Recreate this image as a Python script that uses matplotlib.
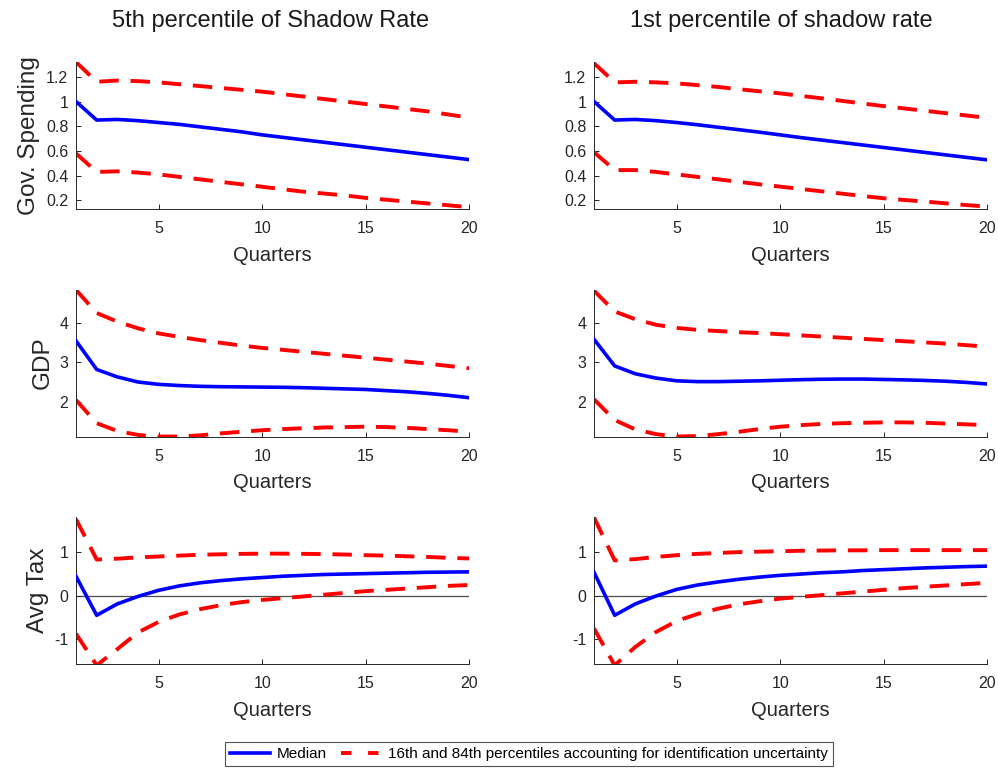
import matplotlib
matplotlib.use("Agg")
import matplotlib.pyplot as plt
from matplotlib.lines import Line2D
import numpy as np

plt.rcParams['font.family'] = ['Liberation Sans', 'DejaVu Sans']
plt.rcParams['lines.scale_dashes'] = False

quarters = list(range(1, 21))
col_titles = ["5th percentile of Shadow Rate", "1st percentile of shadow rate"]
row_labels = ["Gov. Spending", "GDP", "Avg Tax"]

# Gov. Spending
gs_med_5 = [1.0, 0.85, 0.855, 0.845, 0.83, 0.815, 0.795, 0.775, 0.755, 0.73, 0.71, 0.69, 0.67, 0.65, 0.63, 0.61, 0.59, 0.57, 0.55, 0.53]
gs_up_5 = [1.32, 1.16, 1.17, 1.165, 1.155, 1.14, 1.125, 1.11, 1.095, 1.08, 1.06, 1.04, 1.02, 1.0, 0.98, 0.96, 0.94, 0.92, 0.895, 0.87]
gs_lo_5 = [0.58, 0.43, 0.435, 0.425, 0.41, 0.39, 0.37, 0.35, 0.33, 0.31, 0.29, 0.27, 0.255, 0.24, 0.22, 0.205, 0.19, 0.175, 0.16, 0.145]
gs_med_1 = [1.0, 0.85, 0.855, 0.845, 0.83, 0.812, 0.792, 0.772, 0.752, 0.73, 0.708, 0.688, 0.668, 0.648, 0.628, 0.608, 0.588, 0.568, 0.548, 0.528]
gs_up_1 = [1.31, 1.155, 1.16, 1.155, 1.147, 1.133, 1.118, 1.1, 1.083, 1.066, 1.046, 1.026, 1.005, 0.984, 0.963, 0.944, 0.925, 0.906, 0.887, 0.868]
gs_lo_1 = [0.59, 0.445, 0.445, 0.43, 0.41, 0.39, 0.37, 0.35, 0.33, 0.311, 0.292, 0.273, 0.254, 0.235, 0.217, 0.203, 0.19, 0.176, 0.162, 0.149]

# GDP
gdp_med_5 = [3.55, 2.82, 2.63, 2.5, 2.44, 2.41, 2.39, 2.38, 2.375, 2.37, 2.365, 2.355, 2.34, 2.325, 2.31, 2.28, 2.25, 2.21, 2.16, 2.1]
gdp_up_5 = [4.85, 4.26, 4.04, 3.87, 3.74, 3.65, 3.57, 3.5, 3.43, 3.37, 3.32, 3.27, 3.22, 3.17, 3.12, 3.07, 3.02, 2.97, 2.91, 2.85]
gdp_lo_5 = [2.04, 1.45, 1.25, 1.15, 1.11, 1.11, 1.14, 1.19, 1.23, 1.27, 1.3, 1.32, 1.34, 1.35, 1.36, 1.35, 1.33, 1.3, 1.27, 1.23]
gdp_med_1 = [3.59, 2.91, 2.71, 2.6, 2.53, 2.51, 2.51, 2.52, 2.53, 2.545, 2.56, 2.57, 2.575, 2.575, 2.565, 2.555, 2.54, 2.52, 2.49, 2.45]
gdp_up_1 = [4.83, 4.3, 4.1, 3.96, 3.88, 3.83, 3.8, 3.77, 3.75, 3.72, 3.69, 3.66, 3.63, 3.6, 3.57, 3.54, 3.51, 3.48, 3.44, 3.40]
gdp_lo_1 = [2.06, 1.53, 1.29, 1.17, 1.11, 1.12, 1.17, 1.23, 1.3, 1.36, 1.4, 1.43, 1.45, 1.46, 1.47, 1.47, 1.46, 1.44, 1.42, 1.40]

# Avg Tax
tax_med_5 = [0.44, -0.45, -0.19, -0.02, 0.12, 0.22, 0.29, 0.34, 0.38, 0.41, 0.44, 0.46, 0.48, 0.49, 0.5, 0.51, 0.52, 0.53, 0.535, 0.54]
tax_up_5 = [1.74, 0.82, 0.84, 0.87, 0.89, 0.91, 0.93, 0.94, 0.95, 0.955, 0.955, 0.95, 0.945, 0.935, 0.92, 0.91, 0.895, 0.88, 0.86, 0.845]
tax_lo_5 = [-0.87, -1.59, -1.22, -0.84, -0.6, -0.43, -0.31, -0.22, -0.15, -0.1, -0.06, -0.02, 0.02, 0.06, 0.1, 0.13, 0.16, 0.19, 0.22, 0.24]
tax_med_1 = [0.53, -0.45, -0.19, -0.01, 0.14, 0.24, 0.31, 0.37, 0.42, 0.46, 0.49, 0.52, 0.54, 0.57, 0.59, 0.61, 0.63, 0.645, 0.66, 0.67]
tax_up_1 = [1.78, 0.8, 0.83, 0.88, 0.92, 0.95, 0.97, 0.99, 1.0, 1.01, 1.02, 1.025, 1.03, 1.03, 1.035, 1.035, 1.035, 1.035, 1.035, 1.035]
tax_lo_1 = [-0.75, -1.59, -1.17, -0.83, -0.58, -0.42, -0.3, -0.2, -0.13, -0.07, -0.03, 0.01, 0.05, 0.09, 0.13, 0.17, 0.2, 0.23, 0.26, 0.29]

panels = [
    [(gs_med_5, gs_up_5, gs_lo_5), (gs_med_1, gs_up_1, gs_lo_1)],
    [(gdp_med_5, gdp_up_5, gdp_lo_5), (gdp_med_1, gdp_up_1, gdp_lo_1)],
    [(tax_med_5, tax_up_5, tax_lo_5), (tax_med_1, tax_up_1, tax_lo_1)],
]
ylims = [(0.13, 1.32), (1.11, 4.86), (-1.56, 1.79)]
yticks = [[0.2, 0.4, 0.6, 0.8, 1.0, 1.2], [2, 3, 4], [-1, 0, 1]]
yticklabels = [["0.2", "0.4", "0.6", "0.8", "1", "1.2"], ["2", "3", "4"], ["-1", "0", "1"]]

W, H = 998, 771
fig = plt.figure(figsize=(W / 100, H / 100), dpi=100)

col_x = [76, 594]
col_w = 393
row_top = [62, 289.5, 517]
row_h = 147
title_x = [0.496, 0.476]

BLUE = (0.0, 0.0, 1.0)
RED = (1.0, 0.0, 0.0)
AXC = (0.15, 0.15, 0.15)
dash = (14, 8.5)

for r in range(3):
    for c in range(2):
        left = col_x[c] / W
        bottom = 1 - (row_top[r] + row_h) / H
        ax = fig.add_axes([left, bottom, col_w / W, row_h / H])
        med, up, lo = panels[r][c]
        if r == 2:
            ax.axhline(0, color=(0.3, 0.3, 0.3), lw=0.9, zorder=1)
        ax.plot(quarters, up, color=RED, lw=2.8, linestyle=(0, dash), zorder=2)
        ax.plot(quarters, lo, color=RED, lw=2.8, linestyle=(0, dash), zorder=2)
        ax.plot(quarters, med, color=BLUE, lw=2.6, zorder=3)
        ax.set_xlim(1, 20)
        ax.set_ylim(*ylims[r])
        ax.set_xticks([5, 10, 15, 20])
        ax.set_yticks(yticks[r])
        ax.set_yticklabels(yticklabels[r])
        for s in ['top', 'right']:
            ax.spines[s].set_visible(False)
        for s in ['left', 'bottom']:
            ax.spines[s].set_color(AXC)
            ax.spines[s].set_linewidth(0.7)
        ax.tick_params(direction='in', length=3.5, width=0.7, colors=AXC,
                       labelsize=11.5, labelcolor=(0.15, 0.15, 0.15))
        ax.tick_params(axis='x', pad=9)
        ax.tick_params(axis='y', pad=5.5)
        ax.set_xlabel("Quarters", fontsize=14.5, color=(0.15, 0.15, 0.15), labelpad=6.5)
        if c == 0:
            ax.set_ylabel(row_labels[r], fontsize=17.5, color=(0.15, 0.15, 0.15), labelpad=4)
        if r == 0:
            ax.set_title(col_titles[c], fontsize=17, color=(0.1, 0.1, 0.1), pad=25, x=title_x[c])

handles = [
    Line2D([], [], color=BLUE, lw=2.6),
    Line2D([], [], color=RED, lw=2.8, linestyle=(0, (7.5, 12))),
]
leg = fig.legend(handles, ["Median", "16th and 84th percentiles accounting for identification uncertainty"],
                 loc='center', bbox_to_anchor=(529 / W, 1 - 754 / H), ncol=2, fontsize=11,
                 frameon=True, fancybox=False, edgecolor=(0.15, 0.15, 0.15),
                 handlelength=2.6, handletextpad=0.45, columnspacing=0.95,
                 borderpad=0.35, borderaxespad=0)
leg.get_frame().set_linewidth(0.8)

fig.savefig("out.png", dpi=100)
